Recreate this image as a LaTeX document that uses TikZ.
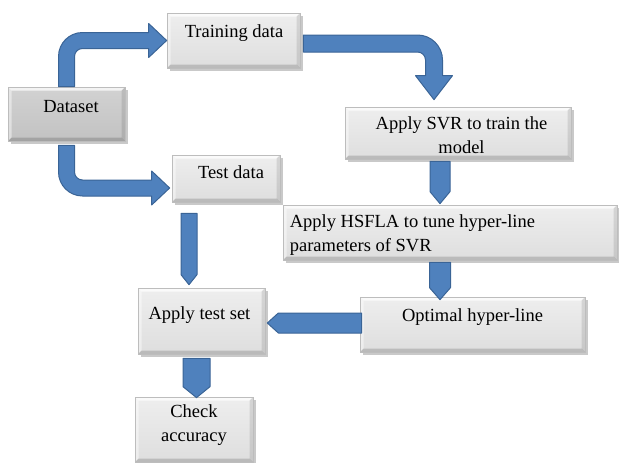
\documentclass[tikz,border=0pt]{standalone}
\usepackage{fontspec}
\setmainfont{Liberation Serif}
\usetikzlibrary{calc,shadows}
\definecolor{arrfill}{HTML}{4F81BD}
\definecolor{arrline}{HTML}{3A6496}
\definecolor{boxtop}{HTML}{EEEEEE}
\definecolor{boxbot}{HTML}{DEDEDE}
\definecolor{boxline}{HTML}{BDBDBD}
\definecolor{dstop}{HTML}{D2D2D2}
\definecolor{dsbot}{HTML}{C2C2C2}
\tikzset{
 bevel/.style={path picture={
   \fill[white,opacity=0.75] (path picture bounding box.north west) -- (path picture bounding box.north east)
     -- ($(path picture bounding box.north east)+(-3.5pt,-3.5pt)$) -- ($(path picture bounding box.north west)+(3.5pt,-3.5pt)$) -- cycle;
   \fill[white,opacity=0.45] (path picture bounding box.north west) -- ($(path picture bounding box.north west)+(3.5pt,-3.5pt)$)
     -- ($(path picture bounding box.south west)+(3.5pt,3.5pt)$) -- (path picture bounding box.south west) -- cycle;
   \fill[black,opacity=0.16] (path picture bounding box.south west) -- (path picture bounding box.south east)
     -- ($(path picture bounding box.south east)+(-3.5pt,3.5pt)$) -- ($(path picture bounding box.south west)+(3.5pt,3.5pt)$) -- cycle;
   \fill[black,opacity=0.10] (path picture bounding box.north east) -- (path picture bounding box.south east)
     -- ($(path picture bounding box.south east)+(-3.5pt,3.5pt)$) -- ($(path picture bounding box.north east)+(-3.5pt,-3.5pt)$) -- cycle;
 }},
 box/.style={rectangle, draw=boxline, line width=0.7pt, top color=boxtop, bottom color=boxbot, bevel,
   drop shadow={shadow xshift=2.5pt,shadow yshift=-2.5pt,opacity=0.3,fill=black!70}, inner sep=0pt},
 dsbox/.style={box, top color=dstop, bottom color=dsbot},
 txt/.style={font=\fontsize{18.5}{24}\selectfont, align=center, inner sep=0pt, text=black},
 blk/.style={fill=arrfill, draw=arrline, line width=1pt, line join=round},
}
\newcommand{\blkdown}[4]{\path[blk] let \p1=(#1), \p2=(#2) in (\x1-#3,\y1) -- (\x1+#3,\y1) -- (\x1+#3,\y2+#4) -- (\x1,\y2) -- (\x1-#3,\y2+#4) -- cycle;}
\newcommand{\blkleft}[4]{\path[blk] let \p1=(#1), \p2=(#2) in (\x1,\y1+#3) -- (\x2+#4,\y1+#3) -- (\x2,\y1) -- (\x2+#4,\y1-#3) -- (\x1,\y1-#3) -- cycle;}
\begin{document}
\begin{tikzpicture}[x=1pt,y=-1pt]
\useasboundingbox (0,0) rectangle (619,463);
% boxes
\node[dsbox, minimum width=117pt, minimum height=54pt,
  label={[txt,xshift=4.5pt,yshift=7pt]center:Dataset}] (ds) at (66.5,114) {};
\node[box, minimum width=133pt, minimum height=55pt,
  label={[txt,xshift=0.5pt,yshift=7.5pt]center:Training data}] (tr) at (233.5,40.5) {};
\node[box, minimum width=108pt, minimum height=47pt,
  label={[txt,xshift=5pt,yshift=6.5pt]center:Test data}] (te) at (226,178.5) {};
\node[box, minimum width=226pt, minimum height=52pt,
  label={[txt,xshift=3.5pt,yshift=-2pt]center:{Apply SVR to train the\\model}}] (svr) at (458,133) {};
\node[box, minimum width=334pt, minimum height=55pt,
  label={[txt,align=left,anchor=west,xshift=7pt,yshift=-2.5pt]west:{Apply HSFLA to tune hyper-line\\parameters of SVR}}] (hsf) at (450,232.5) {};
\node[box, minimum width=225pt, minimum height=55pt,
  label={[txt,yshift=7.5pt]center:Optimal hyper-line}] (opt) at (472.5,324.5) {};
\node[box, minimum width=127pt, minimum height=66pt,
  label={[txt,xshift=-2pt,yshift=6pt]center:Apply test set}] (ap) at (201.5,321) {};
\node[box, minimum width=118pt, minimum height=65pt,
  label={[txt,yshift=4.5pt]center:{Check\\accuracy}}] (ck) at (194,429.5) {};
% bent arrows
\path[blk] let \p1=(ds.north), \p2=(tr.west) in
 (\x1-8pt,\y1) -- (\x1-8pt,\y2-16pt) .. controls (\x1-8pt,\y2-2.75pt) and (\x1+2.75pt,\y2+8pt) .. (\x1+16pt,\y2+8pt)
 -- (\x2-18pt,\y2+8pt) -- (\x2-18pt,\y2+17pt) -- (\x2,\y2) -- (\x2-18pt,\y2-17pt) -- (\x2-18pt,\y2-8pt)
 -- (\x1+16pt,\y2-8pt) .. controls (\x1+11.58pt,\y2-8pt) and (\x1+8pt,\y2-11.58pt) .. (\x1+8pt,\y2-16pt)
 -- (\x1+8pt,\y1) -- cycle;
\path[blk] let \p1=($(ds.south)+(0,4)$), \p2=($(te.west)+(-2,9.5)$) in
 (\x1-8pt,\y1) -- (\x1-8pt,\y2+16pt) .. controls (\x1-8pt,\y2+2.75pt) and (\x1+2.75pt,\y2-8pt) .. (\x1+16pt,\y2-8pt)
 -- (\x2-18pt,\y2-8pt) -- (\x2-18pt,\y2-17pt) -- (\x2,\y2) -- (\x2-18pt,\y2+17pt) -- (\x2-18pt,\y2+8pt)
 -- (\x1+16pt,\y2+8pt) .. controls (\x1+11.58pt,\y2+8pt) and (\x1+8pt,\y2+11.58pt) .. (\x1+8pt,\y2+16pt)
 -- (\x1+8pt,\y1) -- cycle;
\path[blk] let \p1=($(tr.east)+(3,3)$), \p2=($(svr.north)+(-24,-7)$) in
 (\x1,\y1+8.5pt) -- (\x2-16.5pt,\y1+8.5pt) .. controls (\x2-2.69pt,\y1+8.5pt) and (\x2+8.5pt,\y1-2.69pt) .. (\x2+8.5pt,\y1-16.5pt)
 -- (\x2+8.5pt,\y2+24pt) -- (\x2+18.5pt,\y2+24pt) -- (\x2,\y2) -- (\x2-18.5pt,\y2+24pt) -- (\x2-8.5pt,\y2+24pt)
 -- (\x2-8.5pt,\y1-16.5pt) .. controls (\x2-8.5pt,\y1-12.08pt) and (\x2-12.08pt,\y1-8.5pt) .. (\x2-16.5pt,\y1-8.5pt)
 -- (\x1,\y1-8.5pt) -- cycle;
% straight arrows
\blkdown{$(svr.south)+(-18,2)$}{$(hsf.north)+(-10,-1)$}{10pt}{12pt}
\blkdown{$(hsf.south)+(-10,2)$}{$(opt.north)+(-32.5,3)$}{10.5pt}{12pt}
\blkdown{$(te.south)+(-37,11)$}{$(ap.north)+(-12.5,-3)$}{8pt}{10pt}
\blkleft{$(opt.west)+(2,-1.5)$}{$(ap.east)+(2,2)$}{10pt}{11pt}
\blkdown{$(ap.south)+(-5,4)$}{$(ck.north)+(2.5,1)$}{13.5pt}{11pt}
\end{tikzpicture}
\end{document}
